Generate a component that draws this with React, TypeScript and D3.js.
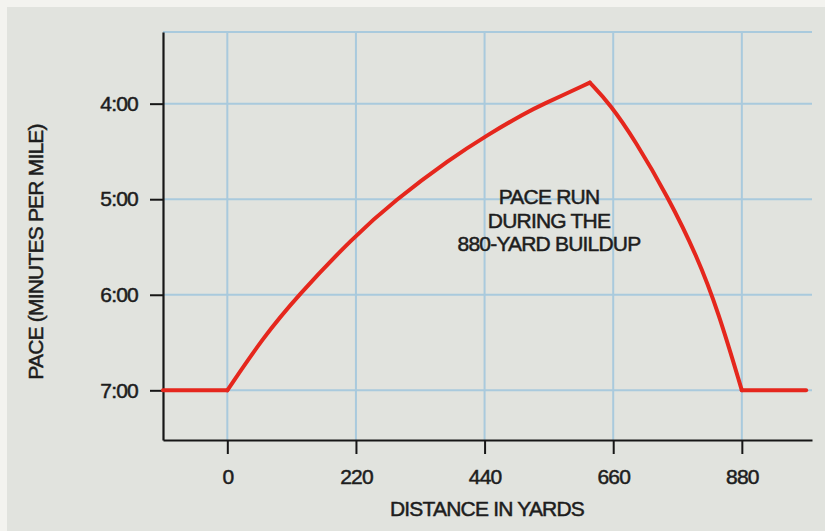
import { useEffect, useRef } from 'react';
import * as d3 from 'd3';

// pace curve (yards, minutes per mile)
const paceYards = [-110, 0, 61, 119, 215, 287, 381, 444, 512, 535, 620, 654, 697, 754, 803, 840, 880, 990];
const paceMinutes = [7.0, 7.0, 6.45, 6.02, 5.4, 5.01, 4.58, 4.33, 4.09, 4.02, 3.78, 4.0, 4.38, 4.98, 5.59, 6.18, 7.0, 7.0];
// sharp corners of the curve
const cornerYards = [0, 620, 880];

const xTicks = [0, 220, 440, 660, 880];
const yTicks = [4, 5, 6, 7];
const yTickLabels = ['4:00', '5:00', '6:00', '7:00'];
const noteLines = ['PACE RUN', 'DURING THE', '880-YARD BUILDUP'];

const W = 825;
const H = 531;
const FONT = "'Liberation Sans', Arial, Helvetica, sans-serif";
const INK = '#1d1d1d';

export default function App() {
  const ref = useRef<SVGSVGElement>(null);

  useEffect(() => {
    document.body.style.margin = '0';
    if (!ref.current) return;
    const svg = d3.select(ref.current);
    svg.selectAll('*').remove();

    const x = d3.scaleLinear().domain([-110, 1000]).range([163, 812]);
    const y = d3.scaleLinear().domain([3.25, 7.52]).range([32, 440]);

    // paper
    svg.append('rect').attr('width', W).attr('height', H).attr('fill', '#f3f3ef');
    svg.append('rect').attr('x', 7).attr('y', 7).attr('width', W - 7).attr('height', H - 7).attr('fill', '#e1e3de');

    // grid
    const grid = svg.append('g').attr('stroke', '#a9cadd').attr('stroke-width', 2);
    grid.selectAll('line.h')
      .data([3.25, ...yTicks])
      .join('line')
      .attr('class', 'h')
      .attr('x1', x(-110)).attr('x2', x(1000))
      .attr('y1', d => y(d)).attr('y2', d => y(d));
    grid.selectAll('line.v')
      .data(xTicks)
      .join('line')
      .attr('class', 'v')
      .attr('x1', d => x(d)).attr('x2', d => x(d))
      .attr('y1', y(3.25)).attr('y2', y(7.52));

    // axes
    const yAxis = d3.axisLeft(y)
      .tickValues(yTicks)
      .tickFormat((_, i) => yTickLabels[i])
      .tickSize(13)
      .tickSizeOuter(0)
      .tickPadding(12);
    const gy = svg.append('g').attr('transform', `translate(${x(-110)},0)`).call(yAxis);

    const xAxis = d3.axisBottom(x)
      .tickValues(xTicks)
      .tickFormat(d3.format('d'))
      .tickSize(14)
      .tickSizeOuter(0)
      .tickPadding(15);
    const gx = svg.append('g').attr('transform', `translate(0,${y(7.52)})`).call(xAxis);

    [gx, gy].forEach(g => {
      g.select('.domain').attr('stroke', '#161616').attr('stroke-width', 2.2);
      g.selectAll('.tick line').attr('stroke', '#161616').attr('stroke-width', 2);
      g.selectAll('.tick text')
        .attr('fill', INK)
        .attr('stroke', INK)
        .attr('stroke-width', 0.5)
        .style('font-family', FONT)
        .style('font-size', '21px')
        .style('letter-spacing', '-0.8px');
    });

    // pace line, split at the corners so each stretch is smoothed on its own
    const pts = paceYards.map((d, i) => [d, paceMinutes[i]] as [number, number]);
    const breaks = [paceYards[0], ...cornerYards, paceYards[paceYards.length - 1]];
    const line = d3.line<[number, number]>()
      .x(d => x(d[0]))
      .y(d => y(d[1]))
      .curve(d3.curveBasis);
    for (let i = 0; i < breaks.length - 1; i++) {
      const seg = pts.filter(p => p[0] >= breaks[i] && p[0] <= breaks[i + 1]);
      svg.append('path')
        .attr('d', line(seg))
        .attr('fill', 'none')
        .attr('stroke', '#e5271d')
        .attr('stroke-width', 4)
        .attr('stroke-linecap', 'round')
        .attr('stroke-linejoin', 'round');
    }

    const label = (sel: any) =>
      sel.attr('fill', INK)
        .attr('stroke', INK)
        .attr('stroke-width', 0.5)
        .style('font-family', FONT)
        .style('font-size', '21px')
        .style('letter-spacing', '-0.8px');

    // note
    svg.append('text')
      .attr('x', 549)
      .attr('y', 204)
      .attr('text-anchor', 'middle')
      .call(label)
      .selectAll('tspan')
      .data(noteLines)
      .join('tspan')
      .attr('x', 549)
      .attr('dy', (_, i) => (i === 0 ? 0 : 23.5))
      .text(d => d);

    // axis titles
    svg.append('text')
      .attr('x', 487)
      .attr('y', 516)
      .attr('text-anchor', 'middle')
      .call(label)
      .text('DISTANCE IN YARDS');

    svg.append('text')
      .attr('transform', 'translate(43,252) rotate(-90)')
      .attr('text-anchor', 'middle')
      .call(label)
      .text('PACE (MINUTES PER MILE)');
  }, []);

  return <svg ref={ref} width={W} height={H} style={{ display: 'block' }} />;
}
